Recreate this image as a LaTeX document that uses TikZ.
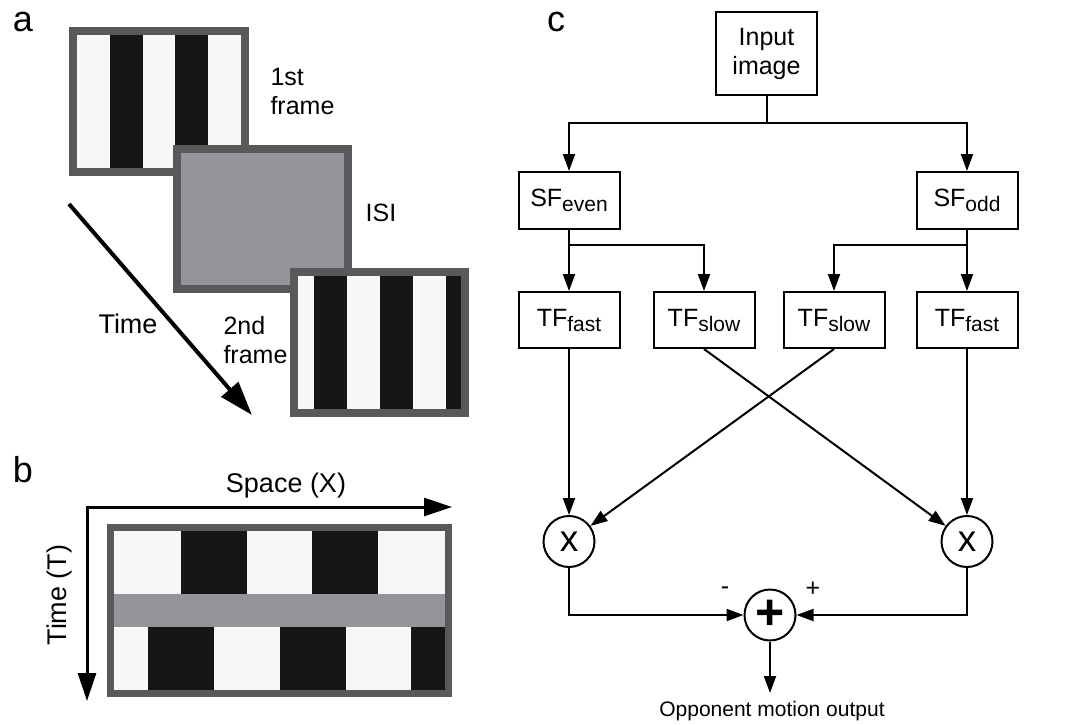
\documentclass[tikz,border=0pt]{standalone}
\usepackage{fontspec}
\setmainfont{Liberation Sans}
\usetikzlibrary{arrows.meta}

\definecolor{stripewhite}{HTML}{F7F7F7}
\definecolor{stripeblack}{HTML}{161616}
\definecolor{isigray}{HTML}{939598}
\definecolor{framegray}{HTML}{58595B}

\newcommand{\lowsub}[1]{\raisebox{-5pt}{\fontsize{21}{21}\selectfont #1}}

\begin{document}
\begin{tikzpicture}[x=1pt,y=-1pt,
    txt/.style={font=\fontsize{25}{29}\selectfont},
    panel/.style={font=\fontsize{36}{36}\selectfont},
    blk/.style={draw,line width=2pt,minimum width=101pt,minimum height=56pt,inner sep=0pt,font=\fontsize{25}{29}\selectfont},
    op/.style={draw,circle,line width=2pt,minimum size=51pt,inner sep=0pt},
    >={Triangle[length=17pt,width=12pt]}]
    \useasboundingbox (0,0) rectangle (1072,724);
    \node[panel] (la) at (23,22) {a};
    \node[panel] (lb) at (23,470) {b};
    \node[panel] (lc) at (556,22) {c};
    \fill[stripewhite] (77,35) rectangle (241,168);
    \foreach \i in {1,3} \fill[stripeblack] (77+32.8*\i,35) rectangle (77+32.8*\i+32.8,168);
    \draw[framegray,line width=8pt] (73,31) rectangle (245,172);
    \draw[framegray,fill=isigray,line width=8pt] (177,149) rectangle (348,289);
    \fill[stripewhite] (298,276) rectangle (461,409);
    \foreach \x in {314,380,446} \fill[stripeblack] (\x,276) rectangle ({min(\x+33,461)},409);
    \draw[framegray,line width=8pt] (294,272) rectangle (465,413);
    \node[txt,align=left,anchor=west] (f1) at (267,92) {1st\\frame};
    \node[txt] (isi) at (381,213) {ISI};
    \node[txt,font=\fontsize{27}{29}\selectfont] (tm) at (128,324) {Time};
    \node[txt,align=left,anchor=west] (f2) at (220,340) {2nd\\frame};
    \coordinate (t0) at (69,204);
    \coordinate (t1) at (252,415);
    \draw[line width=4pt,-{Triangle[length=34pt,width=22pt]}] (t0) -- (t1);
    \fill[stripewhite] (114,531) rectangle (445,690);
    \foreach \x in {181,312} \fill[stripeblack] (\x,531) rectangle (\x+66,594);
    \fill[isigray] (114,594) rectangle (445,627);
    \foreach \x in {148,280,411} \fill[stripeblack] (\x,627) rectangle ({min(\x+66,445)},690);
    \draw[framegray,line width=7pt] (110.5,527.5) rectangle (448.5,693.5);
    \coordinate (o) at (87,507);
    \coordinate (xe) at (452,507);
    \coordinate (te) at (87,701);
    \draw[line width=3pt,{Triangle[length=28pt,width=18pt]}-{Triangle[length=28pt,width=18pt]}] (xe) -- (o) -- (te);
    \node[font=\fontsize{27}{29}\selectfont] (sp) at (286,486) {Space (X)};
    \node[font=\fontsize{27}{29}\selectfont,rotate=90] (tt) at (60,595) {Time (T)};
    \node[blk,minimum height=83pt,align=center] (In) at (766.5,53.5) {Input\\image};
    \node[blk,minimum height=57pt] (Se) at (569,200.5) {SF\lowsub{even}};
    \node[blk,minimum height=57pt] (So) at (967,200.5) {SF\lowsub{odd}};
    \node[blk] (Fe) at (569,320) {TF\lowsub{fast}};
    \node[blk] (Le) at (704,320) {TF\lowsub{slow}};
    \node[blk] (Lo) at (834,320) {TF\lowsub{slow}};
    \node[blk] (Fo) at (967,320) {TF\lowsub{fast}};
    \node[op,font=\fontsize{37}{37}\selectfont] (Me) at (569,541.5) {x};
    \node[op,font=\fontsize{37}{37}\selectfont] (Mo) at (967,541.5) {x};
    \node[op,font=\fontsize{50}{50}\selectfont\bfseries] (P) at (770,615) {+};
    \node[txt] (mi) at (725,591) {-};
    \node[txt] (pl) at (813,589) {+};
    \node[font=\fontsize{21}{24}\selectfont,anchor=north,inner ysep=8pt] (Out) at (772,693) {Opponent motion output};
    \coordinate (j1) at (766.5,123);
    \coordinate (j2) at (569,245);
    \coordinate (j3) at (967,245);
    \draw[line width=2pt] (In) -- (j1);
    \draw[line width=2pt,->] (j1) -| (Se);
    \draw[line width=2pt,->] (j1) -| (So);
    \draw[line width=2pt] (Se) -- (j2);
    \draw[line width=2pt,->] (j2) -- (Fe);
    \draw[line width=2pt,->] (j2) -| (Le);
    \draw[line width=2pt] (So) -- (j3);
    \draw[line width=2pt,->] (j3) -- (Fo);
    \draw[line width=2pt,->] (j3) -| (Lo);
    \draw[line width=2pt,->] (Fe) -- (Me);
    \draw[line width=2pt,->] (Fo) -- (Mo);
    \draw[line width=2pt,->] (Le.south) -- (Mo);
    \draw[line width=2pt,->] (Lo.south) -- (Me);
    \draw[line width=2pt,->] (Me) |- (P);
    \draw[line width=2pt,->] (Mo) |- (P);
    \draw[line width=2pt,->] (P) -- (P |- Out.north);
\end{tikzpicture}
\end{document}
